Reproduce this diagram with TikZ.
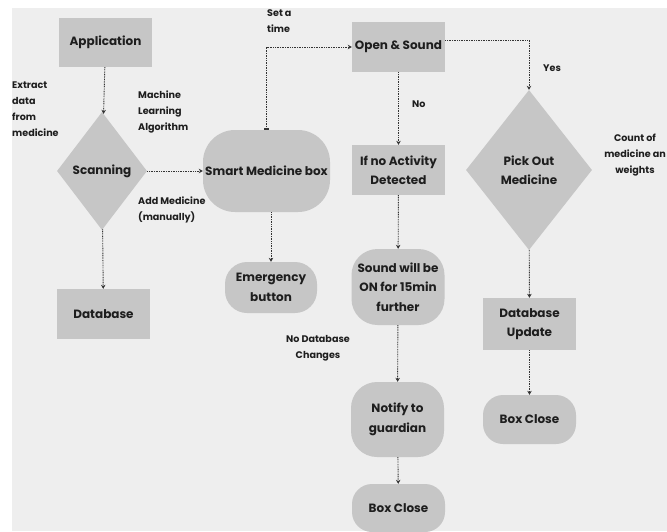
\documentclass[tikz,border=0pt]{standalone}
\usepackage{fontspec}
\setmainfont{Poppins}
\usetikzlibrary{shapes.geometric,arrows.meta}
\definecolor{bg}{HTML}{EEEEEE}
\definecolor{boxfill}{HTML}{C6C6C6}
\definecolor{ink}{HTML}{1E1E1E}
\definecolor{linec}{HTML}{333333}
\begin{document}
\begin{tikzpicture}[x=1pt,y=-1pt,
  base/.style={fill=boxfill, draw=none, text=ink, align=center, inner sep=0pt,
    font=\bfseries\fontsize{12}{19.5}\selectfont},
  rbox/.style={base, rectangle, minimum width=93pt, minimum height=50pt},
  rnd/.style={base, rectangle, minimum width=93pt},
  dia/.style={base, diamond},
  lbl/.style={text=ink, inner sep=0pt, font=\bfseries\fontsize{9.6}{16}\selectfont},
  conn/.style={draw=linec, line width=0.9pt, dash pattern=on 0.9pt off 0.8pt,
    -{Stealth[length=4pt,width=4.5pt]}}
]
\useasboundingbox (0,0) rectangle (667,531);
\fill[bg] (12,8) rectangle (667,531);

% nodes
\node[rbox, minimum height=49pt] (app) at (105.5,42.5) {Application};
\node[dia, minimum width=90pt, minimum height=118pt] (scan) at (102,171) {Scanning};
\node[rnd, minimum width=127pt, minimum height=82pt, rounded corners=32pt] (smart) at (266.5,171) {Smart Medicine box};
\node[rnd, minimum width=92pt, minimum height=51pt, rounded corners=22pt] (emer) at (271,287.5) {Emergency\\button};
\node[rbox] (db) at (103.5,314) {Database};
\node[rbox] (open) at (398.5,47) {Open \& Sound};
\node[rbox] (noact) at (398.5,170) {If no Activity\\Detected};
\node[dia, minimum width=126pt, minimum height=160pt] (pick) at (529,170) {Pick Out\\Medicine};
\node[rnd, minimum height=76pt, rounded corners=26pt] (sound) at (398,287) {Sound will be\\ON for 15min\\further};
\node[rnd, minimum height=75pt, rounded corners=26pt] (notify) at (397.5,419.5) {Notify to\\guardian};
\node[rnd, minimum height=48pt, rounded corners=20pt] (close1) at (398.5,508) {Box Close};
\node[rbox, minimum height=52pt] (dbup) at (529.5,324) {Database\\Update};
\node[rnd, minimum height=49pt, rounded corners=20pt] (close2) at (529.5,419.5) {Box Close};

% labels
\node[lbl, align=left, anchor=north west] (l1) at (12,82) {Extract\\data\\from\\medicine};
\node[lbl, align=left, anchor=north west] (l2) at (138,91) {Machine\\Learning\\Algorithm};
\node[lbl, align=left, anchor=north west] (l3) at (138,197) {Add Medicine\\(manually)};
\node[lbl, align=left, anchor=north west] (l4) at (267,9) {Set a\\time};
\node[lbl, anchor=west] (l5) at (412,104) {No};
\node[lbl, anchor=west] (l6) at (543,68) {Yes};
\node[lbl, align=center] (l7) at (635,155) {Count of\\medicine an\\weights};
\node[lbl, align=center] (l8) at (318,348) {No Database\\Changes};

% connectors
\draw[conn] (app) -- (scan);
\draw[conn] (scan) -- (smart);
\draw[conn] (scan) -- (db);
\draw[conn] (smart.south -| emer.north) -- (emer);
\draw[conn, {Bar[width=5pt,line width=1.4pt]}-{Stealth[length=4pt,width=4.5pt]}] (smart.north) |- (open.west);
\draw[conn] ([yshift=7pt]open.east) -| (pick.north);
\draw[conn] (open) -- (noact);
\draw[conn] (noact) -- (sound);
\draw[conn] (sound) -- (notify);
\draw[conn] (notify) -- (close1);
\draw[conn] (pick) -- (dbup);
\draw[conn] (dbup) -- (close2);
\end{tikzpicture}
\end{document}
